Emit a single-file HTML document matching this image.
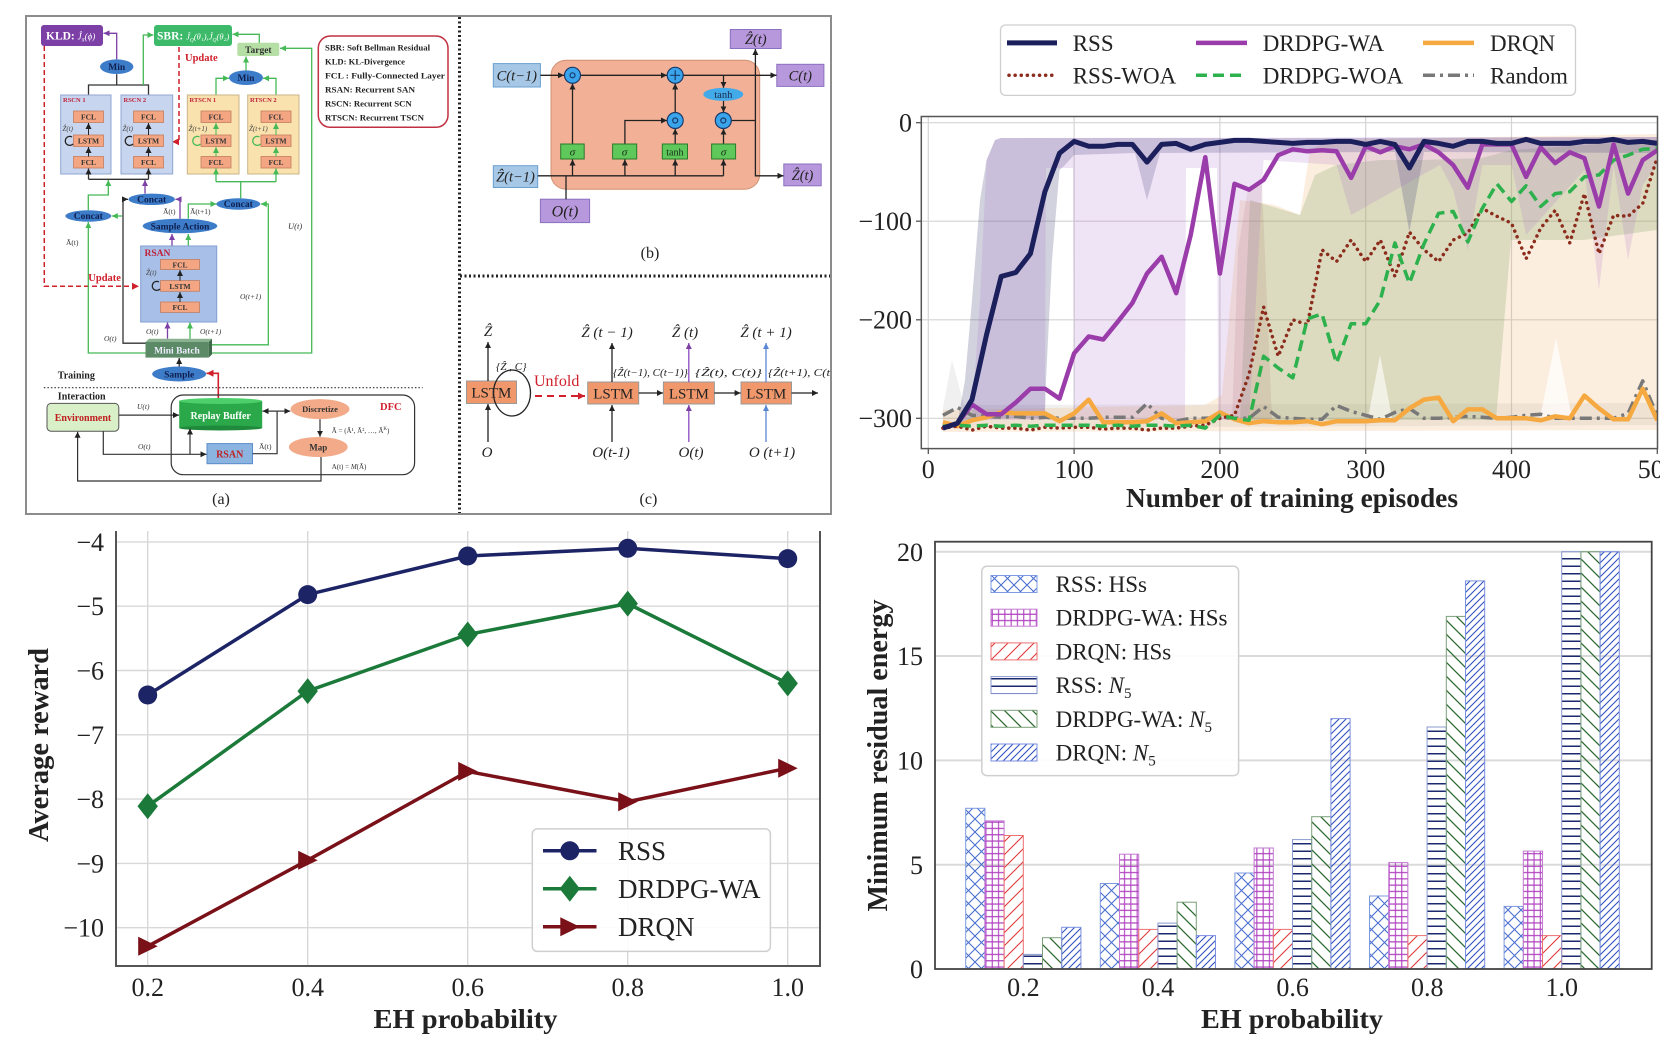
<!DOCTYPE html>
<html><head><meta charset="utf-8"><style>
html,body{margin:0;padding:0;background:#fff;}
svg{display:block;}
text{font-family:"Liberation Serif","DejaVu Serif",serif;}
</style></head><body>
<svg width="1680" height="1050" viewBox="0 0 1680 1050" xmlns="http://www.w3.org/2000/svg">
<defs>
<marker id="mk" viewBox="0 0 10 10" refX="10" refY="5" markerWidth="6" markerHeight="6" markerUnits="userSpaceOnUse" orient="auto"><path d="M0,0L10,5L0,10z" fill="#222"/></marker>
<marker id="mg" viewBox="0 0 10 10" refX="10" refY="5" markerWidth="6" markerHeight="6" markerUnits="userSpaceOnUse" orient="auto"><path d="M0,0L10,5L0,10z" fill="#45b955"/></marker>
<marker id="mp" viewBox="0 0 10 10" refX="10" refY="5" markerWidth="6" markerHeight="6" markerUnits="userSpaceOnUse" orient="auto"><path d="M0,0L10,5L0,10z" fill="#7b3fa6"/></marker>
<marker id="mr" viewBox="0 0 10 10" refX="10" refY="5" markerWidth="7" markerHeight="7" markerUnits="userSpaceOnUse" orient="auto"><path d="M0,0L10,5L0,10z" fill="#d0202c"/></marker>
<marker id="mb" viewBox="0 0 10 10" refX="10" refY="5" markerWidth="6" markerHeight="6" markerUnits="userSpaceOnUse" orient="auto"><path d="M0,0L10,5L0,10z" fill="#5a86d6"/></marker>
<pattern id="pX" patternUnits="userSpaceOnUse" width="13" height="13"><path d="M0,0L13,13M13,0L0,13" stroke="#4a6fd0" stroke-width="1.1"/></pattern>
<pattern id="pG" patternUnits="userSpaceOnUse" width="6.3" height="6.3"><path d="M0,3.15H6.3M3.15,0V6.3" stroke="#b040c0" stroke-width="1.1"/></pattern>
<pattern id="pS" patternUnits="userSpaceOnUse" width="13" height="13"><path d="M0,13L13,0M-3,3L3,-3M10,16L16,10" stroke="#e03a3a" stroke-width="1.1"/></pattern>
<pattern id="pH" patternUnits="userSpaceOnUse" width="7" height="7.5"><path d="M0,3.75H7" stroke="#1b2a6e" stroke-width="1.5"/></pattern>
<pattern id="pB" patternUnits="userSpaceOnUse" width="14" height="14"><path d="M0,0L14,14M-3,11L3,17M11,-3L17,3" stroke="#2e6b30" stroke-width="1.3"/></pattern>
<pattern id="pD" patternUnits="userSpaceOnUse" width="7" height="7"><path d="M0,7L7,0M-2,2L2,-2M5,9L9,5" stroke="#3050c0" stroke-width="1.1"/></pattern>
<clipPath id="cpTR"><rect x="921.3" y="116.5" width="736.2" height="332.1"/></clipPath>
<clipPath id="cpTRL"><rect x="840" y="0" width="820" height="520"/></clipPath>
</defs>

<!-- ================= TOP-LEFT DIAGRAM ================= -->
<rect x="26" y="16" width="805" height="498" fill="#fff" stroke="#8c8c8c" stroke-width="2"/>
<line x1="459.5" y1="17" x2="459.5" y2="513" stroke="#222" stroke-width="3" stroke-dasharray="2 2.5"/>
<line x1="460" y1="276" x2="830" y2="276" stroke="#222" stroke-width="3" stroke-dasharray="2 2.5"/>

<path d="M44.3,46 V286.3 H139" fill="none" stroke="#d0202c" stroke-width="1.5" stroke-dasharray="5 3" marker-end="url(#mr)"/>
<path d="M179,47 V141.7 H172" fill="none" stroke="#d0202c" stroke-width="1.5" stroke-dasharray="5 3" marker-end="url(#mr)"/>

<rect x="41" y="25" width="62" height="21" rx="3" fill="#7b3fa6"/>
<text x="46" y="39.5" font-size="11.5" font-weight="bold" fill="#fff">KLD: <tspan font-style="italic" font-weight="normal" font-size="9">Ĵ<tspan font-size="6" dy="2">π</tspan><tspan dy="-2">(ϕ)</tspan></tspan></text>
<rect x="154" y="25" width="78" height="21" rx="3" fill="#3cba6a"/>
<text x="157" y="39.5" font-size="11.5" font-weight="bold" fill="#fff">SBR: <tspan font-style="italic" font-weight="normal" font-size="8.5">Ĵ<tspan font-size="5.5" dy="2">Q</tspan><tspan dy="-2">(θ₁),Ĵ</tspan><tspan font-size="5.5" dy="2">Q</tspan><tspan dy="-2">(θ₂)</tspan></tspan></text>
<rect x="237.3" y="42.7" width="42" height="13.3" rx="2" fill="#b5dfa5"/>
<text x="258.3" y="53" font-size="9.5" font-weight="bold" fill="#333" text-anchor="middle">Target</text>
<text x="185" y="61" font-size="10.5" font-weight="bold" fill="#d0202c">Update</text>

<path d="M88.5,111 V85 H148.5 V111" fill="none" stroke="#333" stroke-width="1.3"/>
<path d="M116.7,85 V74.2" fill="none" stroke="#333" stroke-width="1.3"/>
<path d="M116.7,59.4 V33.3 H103.5" fill="none" stroke="#7b3fa6" stroke-width="1.3" marker-end="url(#mp)"/>
<path d="M143.3,85 V35 H153.5" fill="none" stroke="#45b955" stroke-width="1.3" marker-end="url(#mg)"/>
<path d="M216,111 V78.3 H229" fill="none" stroke="#45b955" stroke-width="1.3" marker-end="url(#mg)"/>
<path d="M276,111 V78.3 H263" fill="none" stroke="#45b955" stroke-width="1.3" marker-end="url(#mg)"/>
<path d="M246,70.4 V56.5" fill="none" stroke="#45b955" stroke-width="1.3" marker-end="url(#mg)"/>
<path d="M259.3,42.7 V34.3 H232.5" fill="none" stroke="#45b955" stroke-width="1.3" marker-end="url(#mg)"/>
<path d="M208.7,353 H311.7 V48.3 H280" fill="none" stroke="#45b955" stroke-width="1.3" marker-end="url(#mg)"/>

<ellipse cx="116.7" cy="66.7" rx="16.7" ry="7.3" fill="#3d7cc9"/>
<text x="116.7" y="70" font-size="9.5" font-weight="bold" fill="#0f1f4f" text-anchor="middle">Min</text>
<ellipse cx="246" cy="77.7" rx="17" ry="7.3" fill="#3d7cc9"/>
<text x="246" y="81" font-size="9.5" font-weight="bold" fill="#0f1f4f" text-anchor="middle">Min</text>

<rect x="318.3" y="36" width="129.7" height="91.3" rx="12" fill="#fff" stroke="#c03040" stroke-width="1.5"/>
<g font-size="8.7" font-weight="bold" fill="#222">
<text x="325" y="50.7" textLength="105" lengthAdjust="spacingAndGlyphs">SBR: Soft Bellman Residual</text>
<text x="325" y="64.7" textLength="80" lengthAdjust="spacingAndGlyphs">KLD: KL-Divergence</text>
<text x="325" y="78.7" textLength="120" lengthAdjust="spacingAndGlyphs">FCL :  Fully-Connected Layer</text>
<text x="325" y="92.3" textLength="90" lengthAdjust="spacingAndGlyphs">RSAN: Recurrent SAN</text>
<text x="325" y="106.3" textLength="86.7" lengthAdjust="spacingAndGlyphs">RSCN: Recurrent SCN</text>
<text x="325" y="120.3" textLength="99" lengthAdjust="spacingAndGlyphs">RTSCN: Recurrent TSCN</text>
</g>

<rect x="60.7" y="95" width="50.3" height="79" fill="#c8d5ee" stroke="#8fa6d2"/>
<rect x="121" y="95" width="51.7" height="79" fill="#c8d5ee" stroke="#8fa6d2"/>
<rect x="187.3" y="95" width="51.7" height="79" fill="#f9e2ae" stroke="#c9b58a"/>
<rect x="247.7" y="95" width="51.3" height="79" fill="#f9e2ae" stroke="#c9b58a"/>
<g font-size="6.5" font-weight="bold" fill="#c0203a">
<text x="63" y="102">RSCN 1</text><text x="123.5" y="102">RSCN 2</text>
<text x="189.5" y="102">RTSCN 1</text><text x="250" y="102">RTSCN 2</text>
</g>
<g fill="#f4a683" stroke="#c27e60" stroke-width="0.8">
<rect x="73.5" y="111" width="30" height="11.5"/><rect x="73.5" y="135" width="30" height="11.5"/><rect x="73.5" y="156.5" width="30" height="11.5"/>
<rect x="133.5" y="111" width="30" height="11.5"/><rect x="133.5" y="135" width="30" height="11.5"/><rect x="133.5" y="156.5" width="30" height="11.5"/>
<rect x="201" y="111" width="30" height="11.5"/><rect x="201" y="135" width="30" height="11.5"/><rect x="201" y="156.5" width="30" height="11.5"/>
<rect x="261" y="111" width="30" height="11.5"/><rect x="261" y="135" width="30" height="11.5"/><rect x="261" y="156.5" width="30" height="11.5"/>
</g>
<g font-size="7.5" font-weight="bold" fill="#333" text-anchor="middle">
<text x="88.5" y="119.5">FCL</text><text x="88.5" y="143.5">LSTM</text><text x="88.5" y="165">FCL</text>
<text x="148.5" y="119.5">FCL</text><text x="148.5" y="143.5">LSTM</text><text x="148.5" y="165">FCL</text>
<text x="216" y="119.5">FCL</text><text x="216" y="143.5">LSTM</text><text x="216" y="165">FCL</text>
<text x="276" y="119.5">FCL</text><text x="276" y="143.5">LSTM</text><text x="276" y="165">FCL</text>
</g>
<g fill="none" stroke-width="1">
<path d="M88.5,156.5 V147" stroke="#222" marker-end="url(#mk)"/><path d="M88.5,135 V123" stroke="#222" marker-end="url(#mk)"/>
<path d="M148.5,156.5 V147" stroke="#222" marker-end="url(#mk)"/><path d="M148.5,135 V123" stroke="#222" marker-end="url(#mk)"/>
<path d="M216,156.5 V147" stroke="#45b955" marker-end="url(#mg)"/><path d="M216,135 V123" stroke="#45b955" marker-end="url(#mg)"/>
<path d="M276,156.5 V147" stroke="#45b955" marker-end="url(#mg)"/><path d="M276,135 V123" stroke="#45b955" marker-end="url(#mg)"/>
<path d="M72,137 A4.5,4.5 0 1 0 73,144" stroke="#222" stroke-width="1.3"/>
<path d="M132,137 A4.5,4.5 0 1 0 133,144" stroke="#222" stroke-width="1.3"/>
<path d="M199.5,137 A4.5,4.5 0 1 0 200.5,144" stroke="#45b955" stroke-width="1.3"/>
<path d="M259.5,137 A4.5,4.5 0 1 0 260.5,144" stroke="#45b955" stroke-width="1.3"/>
</g>
<g font-size="7" font-style="italic" fill="#444">
<text x="62.5" y="131">Ẑ(t)</text><text x="122.5" y="131">Ẑ(t)</text>
<text x="188.5" y="131">Ẑ(t+1)</text><text x="249" y="131">Ẑ(t+1)</text>
</g>

<path d="M88.5,179.3 H148.5" fill="none" stroke="#333" stroke-width="1.3"/>
<path d="M88.5,179.3 V168.5" stroke="#333" stroke-width="1.3" marker-end="url(#mk)"/>
<path d="M148.5,179.3 V168.5" stroke="#333" stroke-width="1.3" marker-end="url(#mk)"/>
<path d="M88.3,210.3 V195 H108.3 V180" fill="none" stroke="#45b955" stroke-width="1.3" marker-end="url(#mg)"/>
<path d="M145,193.6 V180" fill="none" stroke="#7b3fa6" stroke-width="1.3" marker-end="url(#mp)"/>
<path d="M216,181.7 H276" fill="none" stroke="#45b955" stroke-width="1.3"/>
<path d="M216,181.7 V168.5" stroke="#45b955" stroke-width="1.3" marker-end="url(#mg)"/>
<path d="M276,181.7 V168.5" stroke="#45b955" stroke-width="1.3" marker-end="url(#mg)"/>
<path d="M240.7,198.3 V182" stroke="#45b955" stroke-width="1.3"/>

<path d="M180,218.7 V199.3 H175.5" fill="none" stroke="#7b3fa6" stroke-width="1.3" marker-end="url(#mp)"/>
<path d="M188.3,218.7 V204 H216.5" fill="none" stroke="#45b955" stroke-width="1.3" marker-end="url(#mg)"/>
<path d="M145.5,343.2 H123 V199.3 H128" fill="none" stroke="#333" stroke-width="1.3" marker-end="url(#mk)"/>
<path d="M122,216 H111.8" fill="none" stroke="#45b955" stroke-width="1.3" marker-end="url(#mg)"/>
<path d="M145.5,353 H88.3 V222" fill="none" stroke="#45b955" stroke-width="1.3" marker-end="url(#mg)"/>
<path d="M208.7,344.8 H268.3 V204 H260.8" fill="none" stroke="#45b955" stroke-width="1.3" marker-end="url(#mg)"/>
<path d="M172,246 V234" stroke="#7b3fa6" stroke-width="1.3" marker-end="url(#mp)"/>
<path d="M188.3,246 V234" stroke="#45b955" stroke-width="1.3" marker-end="url(#mg)"/>
<path d="M167.5,338.8 V322.5" stroke="#7b3fa6" stroke-width="1.3" marker-end="url(#mp)"/>
<path d="M190,338.8 V322.5" stroke="#45b955" stroke-width="1.3" marker-end="url(#mg)"/>
<path d="M179.2,366.5 V358" stroke="#333" stroke-width="1.3" marker-end="url(#mk)"/>
<path d="M218.3,398 V373.3 H206.5" fill="none" stroke="#d0202c" stroke-width="1.6" marker-end="url(#mr)"/>

<g fill="#3d7cc9">
<ellipse cx="151.7" cy="199.3" rx="23.3" ry="5.7"/>
<ellipse cx="238.3" cy="204" rx="22" ry="5.7"/>
<ellipse cx="88.3" cy="216" rx="23" ry="5.7"/>
<ellipse cx="180" cy="226" rx="37.3" ry="7.3"/>
<ellipse cx="179.2" cy="374" rx="27" ry="7.5"/>
</g>
<g font-size="9.5" font-weight="bold" fill="#0f1f4f" text-anchor="middle">
<text x="151.7" y="202.5">Concat</text><text x="238.3" y="207.2">Concat</text><text x="88.3" y="219.2">Concat</text>
<text x="180" y="229.5">Sample Action</text><text x="179.2" y="377.5">Sample</text>
</g>
<g font-size="7.5" fill="#333">
<text x="163" y="214">Ā(t)</text><text x="190" y="214">Ā(t+1)</text>
<text x="66" y="245">Ā(t)</text>
<text x="288" y="229" font-style="italic" font-size="8.5">U(t)</text>
<text x="240" y="299" font-style="italic">O(t+1)</text>
<text x="146" y="334" font-style="italic">O(t)</text>
<text x="200" y="334" font-style="italic">O(t+1)</text>
<text x="104" y="341" font-style="italic">O(t)</text>
</g>

<rect x="140.7" y="246" width="76" height="76" fill="#a8c0e8" stroke="#7f9fd0"/>
<text x="144.5" y="256" font-size="9.5" font-weight="bold" fill="#c0203a">RSAN</text>
<g fill="#f4a683" stroke="#c27e60" stroke-width="0.8">
<rect x="160.5" y="259.5" width="39" height="10"/><rect x="160.5" y="280.6" width="39" height="10.7"/><rect x="160.5" y="302" width="39" height="10.4"/>
</g>
<g font-size="7.5" font-weight="bold" fill="#333" text-anchor="middle">
<text x="180" y="267.3">FCL</text><text x="180" y="288.8">LSTM</text><text x="180" y="310">FCL</text>
</g>
<path d="M180,302 V292" stroke="#222" marker-end="url(#mk)"/>
<path d="M180,280.6 V270" stroke="#222" marker-end="url(#mk)"/>
<path d="M159,282 A4.5,4.5 0 1 0 160,289" fill="none" stroke="#222" stroke-width="1.3"/>
<text x="146" y="275" font-size="7" font-style="italic" fill="#444">Ẑ(t)</text>
<text x="88.3" y="281" font-size="10.5" font-weight="bold" fill="#d0202c">Update</text>

<polygon points="145.5,342 149,338.8 212,338.8 208.7,342" fill="#8ab290"/>
<polygon points="208.7,342 212,338.8 212,354.4 208.7,357.6" fill="#406a4a"/>
<rect x="145.5" y="342" width="63.2" height="15.6" fill="#5c8a66"/>
<text x="177" y="353.5" font-size="9.5" font-weight="bold" fill="#eef" text-anchor="middle">Mini Batch</text>

<text x="57.8" y="378.5" font-size="10" font-weight="bold" fill="#222">Training</text>
<text x="57.8" y="399.5" font-size="10" font-weight="bold" fill="#222">Interaction</text>
<line x1="43.9" y1="387.7" x2="422.7" y2="387.7" stroke="#333" stroke-width="1.2" stroke-dasharray="1.5 2"/>

<rect x="171.2" y="395" width="243.4" height="79.7" rx="12" fill="none" stroke="#333" stroke-width="1.2"/>
<text x="380" y="410" font-size="10.5" font-weight="bold" fill="#d0202c">DFC</text>
<rect x="47" y="403.4" width="71.8" height="27.8" rx="4" fill="#d8efc8" stroke="#555"/>
<text x="83" y="421" font-size="10" font-weight="bold" fill="#c02020" text-anchor="middle">Environment</text>
<rect x="179.2" y="401" width="83" height="27" fill="#2aa84a"/>
<ellipse cx="220.7" cy="428" rx="41.5" ry="2.5" fill="#1f8a3c"/>
<ellipse cx="220.7" cy="401" rx="41.5" ry="3" fill="#4dd06c"/>
<text x="220.7" y="419" font-size="10" font-weight="bold" fill="#fff" text-anchor="middle">Replay Buffer</text>
<ellipse cx="320" cy="409.1" rx="29.4" ry="10" fill="#f2aa88"/>
<text x="320" y="412" font-size="8.5" font-weight="bold" fill="#333" text-anchor="middle">Discretize</text>
<ellipse cx="318.3" cy="447" rx="29.4" ry="10" fill="#f2aa88"/>
<text x="318.3" y="450.5" font-size="9" font-weight="bold" fill="#333" text-anchor="middle">Map</text>
<text x="331.7" y="433" font-size="7" fill="#333">Ā = (Ā¹, Ā², …, Ā<tspan font-size="5" dy="-3">K</tspan><tspan dy="3">)</tspan></text>
<text x="331.7" y="469" font-size="7" fill="#333">A(t) = <tspan font-style="italic">M</tspan>(Ā)</text>
<rect x="207" y="443.6" width="45.5" height="20.1" fill="#8cb4e0" stroke="#5b8ccc"/>
<text x="229.7" y="457.5" font-size="10" font-weight="bold" fill="#c02020" text-anchor="middle">RSAN</text>
<g fill="none" stroke="#333" stroke-width="1.2">
<path d="M118.8,415.1 H179" marker-end="url(#mk)"/>
<path d="M103.3,431.2 V454.3 H206.5" marker-end="url(#mk)"/>
<path d="M190,454.3 V428.5" marker-end="url(#mk)"/>
<path d="M252.5,453.7 H277.1 V411.1 H262.5" marker-end="url(#mk)"/>
<path d="M277,411.1 H290.3" marker-end="url(#mk)"/>
<path d="M320,419.2 V436.8" marker-end="url(#mk)"/>
<path d="M321,457 V481 H77.6 V431.8" marker-end="url(#mk)"/>
</g>
<g font-size="7.5" font-style="italic" fill="#333">
<text x="137" y="409">U(t)</text><text x="138" y="449">O(t)</text><text x="259" y="449" font-style="normal">Ā(t)</text>
</g>
<text x="221" y="504" font-size="16" fill="#222" text-anchor="middle">(a)</text>

<!-- (b) LSTM cell -->
<rect x="551" y="60.3" width="208.7" height="128.9" rx="15" fill="#f2b196" stroke="#d09070"/>
<rect x="493.3" y="63.6" width="47.1" height="23.4" fill="#a6c8e6" stroke="#6a9fd0"/>
<text x="516.8" y="80.5" font-size="14.5" font-style="italic" fill="#222" text-anchor="middle">C(t−1)</text>
<rect x="493.3" y="165.7" width="44.4" height="21.8" fill="#a6c8e6" stroke="#6a9fd0"/>
<text x="515.5" y="181.5" font-size="14.5" font-style="italic" fill="#222" text-anchor="middle">Ẑ(t−1)</text>
<rect x="540.4" y="199.2" width="49.2" height="23.4" fill="#b898dc" stroke="#8a70c0"/>
<text x="565" y="216.5" font-size="16" font-style="italic" fill="#222" text-anchor="middle">O(t)</text>
<rect x="730.3" y="29.5" width="50.8" height="19" fill="#b898dc" stroke="#8a70c0"/>
<text x="755.7" y="44" font-size="14.5" font-style="italic" fill="#222" text-anchor="middle">Ẑ(t)</text>
<rect x="776.8" y="64.3" width="47.1" height="22.1" fill="#b898dc" stroke="#8a70c0"/>
<text x="800.3" y="80.5" font-size="14.5" font-style="italic" fill="#222" text-anchor="middle">C(t)</text>
<rect x="783.8" y="164" width="37.4" height="21.8" fill="#b898dc" stroke="#8a70c0"/>
<text x="802.5" y="180" font-size="14.5" font-style="italic" fill="#222" text-anchor="middle">Ẑ(t)</text>
<g fill="none" stroke="#222" stroke-width="1.3">
<path d="M540.4,75.3 H564" marker-end="url(#mk)"/>
<path d="M580.5,75.3 H667" marker-end="url(#mk)"/>
<path d="M683.2,75.3 H776.5" marker-end="url(#mk)"/>
<path d="M537.7,175.8 H723.5"/>
<path d="M572.5,175.8 V159.5" marker-end="url(#mk)"/>
<path d="M624.9,175.8 V159.5" marker-end="url(#mk)"/>
<path d="M675.2,175.8 V159.5" marker-end="url(#mk)"/>
<path d="M723.5,175.8 V159.5" marker-end="url(#mk)"/>
<path d="M566,199.2 V175.8"/>
<path d="M572.5,144 V83.5" marker-end="url(#mk)"/>
<path d="M624.9,144 V120.5 H667" marker-end="url(#mk)"/>
<path d="M675.2,144 V128.7" marker-end="url(#mk)"/>
<path d="M675.2,112.5 V83.5" marker-end="url(#mk)"/>
<path d="M723.5,144 V128.7" marker-end="url(#mk)"/>
<path d="M723.5,75.3 V87.8" marker-end="url(#mk)"/>
<path d="M723.5,100.9 V112.3" marker-end="url(#mk)"/>
<path d="M731.5,120.5 H755.4 V49" marker-end="url(#mk)"/>
<path d="M755.4,120.5 V175.8 H783.5" marker-end="url(#mk)"/>
</g>
<g fill="#3aa5ec" stroke="#1a3a6a" stroke-width="1.2">
<circle cx="572.5" cy="75.3" r="8"/><circle cx="675.2" cy="75.3" r="8"/>
<circle cx="675.2" cy="120.5" r="8"/><circle cx="723.3" cy="120.5" r="8"/>
</g>
<g fill="none" stroke="#1a3a6a" stroke-width="1.2">
<circle cx="572.5" cy="75.3" r="2.5"/><circle cx="675.2" cy="120.5" r="2.5"/><circle cx="723.3" cy="120.5" r="2.5"/>
<path d="M670.2,75.3 H680.2 M675.2,70.3 V80.3"/>
</g>
<ellipse cx="723.3" cy="94.4" rx="20" ry="6.5" fill="#43aaea"/>
<text x="723.3" y="98" font-size="10.5" fill="#1a2a4a" text-anchor="middle">tanh</text>
<g fill="#5ec85a" stroke="#2a7a2a">
<rect x="560.7" y="144" width="23.5" height="15"/><rect x="612.6" y="144" width="24.1" height="15"/>
<rect x="662.3" y="144" width="25.2" height="15"/><rect x="711.6" y="144" width="24" height="15"/>
</g>
<g font-size="11" fill="#1a2a1a" text-anchor="middle">
<text x="572.5" y="155.5" font-style="italic">σ</text><text x="624.6" y="155.5" font-style="italic">σ</text>
<text x="674.9" y="155.5" font-size="10">tanh</text><text x="723.6" y="155.5" font-style="italic">σ</text>
</g>
<text x="650" y="258" font-size="16" fill="#222" text-anchor="middle">(b)</text>

<!-- (c) unfolded LSTM -->
<g fill="#f0986c" stroke="#999">
<rect x="466.5" y="381" width="50" height="22.5"/><rect x="587.7" y="382" width="51" height="22"/>
<rect x="663.4" y="382" width="51" height="22"/><rect x="741" y="382" width="50.5" height="22"/>
</g>
<g font-size="15" fill="#222" text-anchor="middle">
<text x="491.4" y="397.5">LSTM</text><text x="613.2" y="398.5">LSTM</text><text x="688.9" y="398.5">LSTM</text><text x="766.2" y="398.5">LSTM</text>
</g>
<ellipse cx="512" cy="393" rx="18.5" ry="23" fill="none" stroke="#222" stroke-width="1.3"/>
<g fill="none" stroke-width="1.3">
<path d="M488,381 V342" stroke="#222" marker-end="url(#mk)"/>
<path d="M488,442 V404" stroke="#222" marker-end="url(#mk)"/>
<path d="M612,382 V343" stroke="#222" marker-end="url(#mk)"/>
<path d="M688.8,382 V343" stroke="#8a4cc0" marker-end="url(#mp)"/>
<path d="M766,382 V343" stroke="#5a86d6" marker-end="url(#mb)"/>
<path d="M612,442 V405" stroke="#222" marker-end="url(#mk)"/>
<path d="M688.8,442 V405" stroke="#8a4cc0" marker-end="url(#mp)"/>
<path d="M766,442 V405" stroke="#5a86d6" marker-end="url(#mb)"/>
<path d="M638.7,393 H663" stroke="#222" marker-end="url(#mk)"/>
<path d="M714.4,393 H740.6" stroke="#222" marker-end="url(#mk)"/>
<path d="M791.5,393 H818" stroke="#222" marker-end="url(#mk)"/>
<path d="M535,396 H585" stroke="#d0202c" stroke-width="2" stroke-dasharray="7 5" marker-end="url(#mr)"/>
</g>
<text x="534" y="386" font-size="16" fill="#d0202c">Unfold</text>
<text x="496" y="370" font-size="11" font-style="italic" fill="#222">{Ẑ , C}</text>
<g font-size="15" font-style="italic" fill="#222" text-anchor="middle">
<text x="488" y="336">Ẑ</text><text x="607" y="337">Ẑ (t − 1)</text><text x="685" y="337">Ẑ (t)</text><text x="766" y="337">Ẑ (t + 1)</text>
<text x="487" y="457">O</text><text x="611" y="457">O(t-1)</text><text x="691" y="457">O(t)</text><text x="772" y="457">O (t+1)</text>
</g>
<g font-size="10" font-style="italic" fill="#222">
<text x="613" y="376" textLength="75" lengthAdjust="spacingAndGlyphs">{Ẑ(t−1), C(t−1)}</text>
<text x="695" y="376" textLength="67" lengthAdjust="spacingAndGlyphs">{Ẑ(t), C(t)}</text>
<text x="768" y="376" textLength="62" lengthAdjust="spacingAndGlyphs">{Ẑ(t+1), C(t</text>
</g>
<text x="648.4" y="504" font-size="16" fill="#222" text-anchor="middle">(c)</text>

<!-- ================= TOP-RIGHT CHART ================= -->
<g clip-path="url(#cpTRL)">
<g stroke="#d4d4d4" stroke-width="1.2">
<line x1="928.3" y1="116.5" x2="928.3" y2="448.6"/><line x1="1074.1" y1="116.5" x2="1074.1" y2="448.6"/>
<line x1="1219.9" y1="116.5" x2="1219.9" y2="448.6"/><line x1="1365.7" y1="116.5" x2="1365.7" y2="448.6"/>
<line x1="1511.5" y1="116.5" x2="1511.5" y2="448.6"/>
<line x1="921.3" y1="122.7" x2="1657.5" y2="122.7"/><line x1="921.3" y1="221.2" x2="1657.5" y2="221.2"/>
<line x1="921.3" y1="319.8" x2="1657.5" y2="319.8"/><line x1="921.3" y1="418.3" x2="1657.5" y2="418.3"/>
</g>
<g clip-path="url(#cpTR)">
<polygon points="942.9,408 952,360 964,405 1657.3,403 1657.3,425 942.9,428" fill="#999" opacity="0.15"/>
<polygon points="942.9,410 1205,405 1222,395 1240,200 1275,205 1300,215 1310,150 1330,140 1657.3,134 1657.3,430 942.9,432" fill="#f2a860" opacity="0.2"/>
<polygon points="1240,420 1250,200 1300,215 1315,175 1336,165 1380,160 1424,160 1482,158 1511,150 1657,140 1657,230 1584,240 1511,240 1496,420" fill="#6f9a50" opacity="0.22"/>
<polygon points="1232,420 1238,250 1248,188 1262,185 1272,420" fill="#a04848" opacity="0.12"/>
<polygon points="957.5,423 965,380 972,300 980,200 986.6,160 995,140 1001.2,138 1300,138 1657.3,137 1657.3,153 1424,152 1409.4,232 1395,152 1160,153 1147,200 1135,153 1074,155 1065,165 1059.5,170 1052,260 1046,380 1044.9,418 986.6,418 972,420" fill="#34346e" opacity="0.22"/>
<polygon points="972,415 980,300 986.6,160 995,140 1001,138 1657,137 1657.3,165 1642.7,185 1628,260 1613.6,165 1599,290 1584.4,170 1526.1,235 1511.5,165 1482.3,165 1467.8,250 1453.2,190 1440,165 1351.1,215 1336.5,165 1263.6,160 1256,300 1249,420 1218,420 1217,168 1186,168 1185,420 1074.1,420 1073,168 1046,168 1044.9,420 986.6,420 972,420" fill="#a868c8" opacity="0.18"/>
<polygon points="1540,418 1556,338 1572,418" fill="#fff" opacity="0.7"/>
<polygon points="1368,418 1380,355 1392,418" fill="#fff" opacity="0.6"/>

<polyline fill="none" stroke="#787878" stroke-width="3.5" stroke-dasharray="12 5 3 5" stroke-linejoin="round" points="942.9,415.3 957.5,407.5 972.0,415.3 986.6,416.3 1001.2,417.3 1015.8,416.3 1030.4,418.3 1044.9,417.3 1059.5,418.3 1074.1,418.3 1088.7,418.3 1103.3,417.3 1117.8,417.3 1132.4,417.3 1147.0,403.5 1161.6,418.3 1176.2,421.2 1190.7,418.3 1205.3,418.3 1219.9,417.3 1234.5,418.3 1249.1,418.3 1263.6,406.5 1278.2,417.3 1292.8,418.3 1307.4,419.3 1322.0,419.3 1336.5,405.5 1351.1,411.4 1365.7,415.3 1380.3,419.3 1394.9,412.4 1409.4,408.4 1424.0,418.3 1438.6,418.3 1453.2,417.3 1467.8,416.3 1482.3,417.3 1496.9,418.3 1511.5,417.3 1526.1,415.3 1540.7,414.3 1555.2,418.3 1569.8,418.3 1584.4,418.3 1599.0,418.3 1613.6,418.3 1628.1,413.4 1642.7,380.9 1657.3,416.3"/>
<polyline fill="none" stroke="#f5a940" stroke-width="4.5" stroke-linejoin="round" points="942.9,422.2 957.5,426.2 972.0,420.3 986.6,417.3 1001.2,412.4 1015.8,413.4 1030.4,413.4 1044.9,413.4 1059.5,421.2 1074.1,413.4 1088.7,399.6 1103.3,422.2 1117.8,422.2 1132.4,422.2 1147.0,421.2 1161.6,413.4 1176.2,423.2 1190.7,422.2 1205.3,421.2 1219.9,412.4 1234.5,419.3 1249.1,423.2 1263.6,421.2 1278.2,422.2 1292.8,422.2 1307.4,421.2 1322.0,424.2 1336.5,421.2 1351.1,421.2 1365.7,421.2 1380.3,420.3 1394.9,420.3 1409.4,408.4 1424.0,399.6 1438.6,397.6 1453.2,421.2 1467.8,409.4 1482.3,409.4 1496.9,418.3 1511.5,418.3 1526.1,418.3 1540.7,420.3 1555.2,416.3 1569.8,418.3 1584.4,395.6 1599.0,408.4 1613.6,419.3 1628.1,419.3 1642.7,388.7 1657.3,420.3"/>
<polyline fill="none" stroke="#8b2c1c" stroke-width="3.5" stroke-dasharray="0.1 6" stroke-linecap="round" stroke-linejoin="round" points="942.9,428.1 957.5,426.2 972.0,430.1 986.6,426.2 1001.2,428.1 1015.8,428.1 1030.4,430.1 1044.9,427.2 1059.5,428.1 1074.1,427.2 1088.7,427.2 1103.3,429.1 1117.8,428.1 1132.4,428.1 1147.0,430.1 1161.6,428.1 1176.2,428.1 1190.7,426.2 1205.3,425.2 1219.9,418.3 1234.5,415.3 1249.1,374.0 1263.6,306.9 1278.2,356.2 1292.8,319.8 1307.4,324.7 1322.0,249.8 1336.5,261.6 1351.1,240.0 1365.7,261.6 1380.3,240.0 1394.9,276.4 1409.4,232.1 1424.0,249.8 1438.6,261.6 1453.2,240.0 1467.8,233.1 1482.3,208.4 1496.9,216.3 1511.5,223.2 1526.1,258.7 1540.7,228.1 1555.2,210.4 1569.8,242.9 1584.4,193.6 1599.0,253.7 1613.6,215.3 1628.1,216.3 1642.7,203.5 1657.3,157.2"/>
<polyline fill="none" stroke="#2db14d" stroke-width="3.5" stroke-dasharray="11 6" stroke-linejoin="round" points="942.9,426.2 957.5,425.2 972.0,426.2 986.6,425.2 1001.2,426.2 1015.8,425.2 1030.4,426.2 1044.9,425.2 1059.5,425.2 1074.1,425.2 1088.7,425.2 1103.3,426.2 1117.8,425.2 1132.4,426.2 1147.0,425.2 1161.6,425.2 1176.2,426.2 1190.7,425.2 1205.3,428.1 1219.9,415.3 1234.5,418.3 1249.1,420.3 1263.6,356.2 1278.2,368.0 1292.8,377.9 1307.4,318.8 1322.0,313.9 1336.5,363.1 1351.1,323.7 1365.7,323.7 1380.3,300.1 1394.9,242.9 1409.4,283.3 1424.0,243.9 1438.6,213.3 1453.2,211.4 1467.8,241.9 1482.3,208.4 1496.9,183.8 1511.5,201.5 1526.1,185.8 1540.7,206.5 1555.2,193.6 1569.8,191.7 1584.4,176.9 1599.0,174.9 1613.6,160.1 1628.1,155.2 1642.7,149.3 1657.3,148.3"/>
<polyline fill="none" stroke="#9a3caa" stroke-width="4.5" stroke-linejoin="round" points="942.9,428.1 957.5,423.2 972.0,404.5 986.6,414.3 1001.2,414.3 1015.8,402.5 1030.4,388.7 1044.9,388.7 1059.5,398.6 1074.1,353.3 1088.7,336.5 1103.3,339.5 1117.8,321.7 1132.4,303.0 1147.0,273.5 1161.6,256.7 1176.2,293.2 1190.7,235.0 1205.3,157.2 1219.9,273.5 1234.5,183.8 1249.1,189.7 1263.6,179.8 1278.2,155.2 1292.8,149.3 1307.4,151.3 1322.0,150.3 1336.5,151.3 1351.1,177.9 1365.7,146.3 1380.3,152.3 1394.9,146.3 1409.4,149.3 1424.0,144.4 1438.6,152.3 1453.2,165.1 1467.8,187.7 1482.3,144.4 1496.9,144.4 1511.5,144.4 1526.1,176.9 1540.7,147.3 1555.2,163.1 1569.8,152.3 1584.4,158.2 1599.0,206.5 1613.6,144.4 1628.1,193.6 1642.7,160.1 1657.3,150.3"/>
<polyline fill="none" stroke="#1b1f5c" stroke-width="5" stroke-linejoin="round" points="942.9,428.1 957.5,423.2 972.0,399.6 986.6,334.5 1001.2,276.4 1015.8,272.5 1030.4,253.7 1044.9,191.7 1059.5,153.2 1074.1,141.4 1088.7,146.3 1103.3,146.3 1117.8,144.4 1132.4,144.4 1147.0,162.1 1161.6,144.4 1176.2,143.4 1190.7,149.3 1205.3,144.4 1219.9,142.4 1234.5,140.4 1249.1,140.4 1263.6,141.4 1278.2,142.4 1292.8,143.4 1307.4,142.4 1322.0,142.4 1336.5,141.4 1351.1,141.4 1365.7,144.4 1380.3,141.4 1394.9,144.4 1409.4,168.0 1424.0,141.4 1438.6,143.4 1453.2,146.3 1467.8,141.4 1482.3,141.4 1496.9,143.4 1511.5,143.4 1526.1,139.4 1540.7,143.4 1555.2,143.4 1569.8,143.4 1584.4,141.4 1599.0,141.4 1613.6,139.4 1628.1,142.4 1642.7,141.4 1657.3,143.4"/>
</g>
<rect x="921.3" y="116.5" width="736.2" height="332.1" fill="none" stroke="#555" stroke-width="1.5"/>
<g stroke="#555" stroke-width="1.3">
<line x1="928.3" y1="448.6" x2="928.3" y2="454"/><line x1="1074.1" y1="448.6" x2="1074.1" y2="454"/>
<line x1="1219.9" y1="448.6" x2="1219.9" y2="454"/><line x1="1365.7" y1="448.6" x2="1365.7" y2="454"/>
<line x1="1511.5" y1="448.6" x2="1511.5" y2="454"/><line x1="1657.3" y1="448.6" x2="1657.3" y2="454"/>
<line x1="916" y1="122.7" x2="921.3" y2="122.7"/><line x1="916" y1="221.2" x2="921.3" y2="221.2"/>
<line x1="916" y1="319.8" x2="921.3" y2="319.8"/><line x1="916" y1="418.3" x2="921.3" y2="418.3"/>
</g>
<g font-size="26" fill="#222">
<text x="912" y="131.5" text-anchor="end">0</text>
<text x="912" y="230" text-anchor="end">−100</text>
<text x="912" y="328.6" text-anchor="end">−200</text>
<text x="912" y="427" text-anchor="end">−300</text>
<text x="928.3" y="478" text-anchor="middle">0</text>
<text x="1074.1" y="478" text-anchor="middle">100</text>
<text x="1219.9" y="478" text-anchor="middle">200</text>
<text x="1365.7" y="478" text-anchor="middle">300</text>
<text x="1511.5" y="478" text-anchor="middle">400</text>
</g>
<g clip-path="url(#cpTRL)"><text x="1657.3" y="478" font-size="26" fill="#222" text-anchor="middle">500</text></g>
<text x="1292" y="507" font-size="27" font-weight="bold" fill="#222" text-anchor="middle" textLength="332" lengthAdjust="spacingAndGlyphs">Number of training episodes</text>

<rect x="1000.5" y="25" width="575" height="70.4" rx="5" fill="#fff" stroke="#cfcfcf" stroke-width="1.3"/>
<line x1="1007" y1="42.9" x2="1057" y2="42.9" stroke="#1b1f5c" stroke-width="5"/>
<line x1="1196" y1="42.9" x2="1247" y2="42.9" stroke="#9a3caa" stroke-width="4.5"/>
<line x1="1423" y1="42.9" x2="1474" y2="42.9" stroke="#f5a940" stroke-width="4.5"/>
<line x1="1009" y1="75.3" x2="1057" y2="75.3" stroke="#8b2c1c" stroke-width="3.5" stroke-dasharray="0.1 6" stroke-linecap="round"/>
<line x1="1196" y1="75.3" x2="1247" y2="75.3" stroke="#2db14d" stroke-width="3.5" stroke-dasharray="11 6"/>
<line x1="1423" y1="75.3" x2="1474" y2="75.3" stroke="#787878" stroke-width="3.5" stroke-dasharray="12 5 3 5"/>
<g font-size="23" fill="#222">
<text x="1072.7" y="51">RSS</text><text x="1262.7" y="51">DRDPG-WA</text><text x="1490" y="51">DRQN</text>
<text x="1072.7" y="83.5">RSS-WOA</text><text x="1262.7" y="83.5">DRDPG-WOA</text><text x="1490" y="83.5">Random</text>
</g>
</g>

<!-- ================= BOTTOM-LEFT CHART ================= -->
<g stroke="#d8d8d8" stroke-width="1.4">
<line x1="147.7" y1="531" x2="147.7" y2="966"/><line x1="307.7" y1="531" x2="307.7" y2="966"/>
<line x1="467.7" y1="531" x2="467.7" y2="966"/><line x1="627.7" y1="531" x2="627.7" y2="966"/>
<line x1="787.7" y1="531" x2="787.7" y2="966"/>
<line x1="116" y1="541.9" x2="820" y2="541.9"/><line x1="116" y1="606.2" x2="820" y2="606.2"/>
<line x1="116" y1="670.5" x2="820" y2="670.5"/><line x1="116" y1="734.8" x2="820" y2="734.8"/>
<line x1="116" y1="799.1" x2="820" y2="799.1"/><line x1="116" y1="863.4" x2="820" y2="863.4"/>
<line x1="116" y1="927.7" x2="820" y2="927.7"/>
</g>
<path d="M116,531 V966 H820 V531" fill="none" stroke="#555" stroke-width="2"/>
<polyline fill="none" stroke="#1c2466" stroke-width="3.5" points="147.7,695 307.7,594.6 467.7,556 627.7,548.3 787.7,558.6"/>
<polyline fill="none" stroke="#1b7a3a" stroke-width="3.5" points="147.7,806.2 307.7,691.1 467.7,634.5 627.7,603.6 787.7,683.4"/>
<polyline fill="none" stroke="#7a1018" stroke-width="3.5" points="147.7,946.3 307.7,860.2 467.7,771.4 627.7,801.7 787.7,768.2"/>
<g fill="#1c2466">
<circle cx="147.7" cy="695" r="9.5"/><circle cx="307.7" cy="594.6" r="9.5"/><circle cx="467.7" cy="556" r="9.5"/><circle cx="627.7" cy="548.3" r="9.5"/><circle cx="787.7" cy="558.6" r="9.5"/>
</g>
<g fill="#1b7a3a">
<polygon points="147.7,793.2 157.9,806.2 147.7,819.2 137.5,806.2"/>
<polygon points="307.7,678.1 317.9,691.1 307.7,704.1 297.5,691.1"/>
<polygon points="467.7,621.5 477.9,634.5 467.7,647.5 457.5,634.5"/>
<polygon points="627.7,590.6 637.9,603.6 627.7,616.6 617.5,603.6"/>
<polygon points="787.7,670.4 797.9,683.4 787.7,696.4 777.5,683.4"/>
</g>
<g fill="#7a1018">
<polygon points="138.2,936.8 157.7,946.3 138.2,955.8"/>
<polygon points="298.2,850.7 317.7,860.2 298.2,869.7"/>
<polygon points="458.2,761.9 477.7,771.4 458.2,780.9"/>
<polygon points="618.2,792.2 637.7,801.7 618.2,811.2"/>
<polygon points="778.2,758.7 797.7,768.2 778.2,777.7"/>
</g>
<g font-size="26" fill="#222">
<text x="104" y="550.9" text-anchor="end">−4</text>
<text x="104" y="615.2" text-anchor="end">−5</text>
<text x="104" y="679.5" text-anchor="end">−6</text>
<text x="104" y="743.8" text-anchor="end">−7</text>
<text x="104" y="808.1" text-anchor="end">−8</text>
<text x="104" y="872.4" text-anchor="end">−9</text>
<text x="104" y="936.7" text-anchor="end">−10</text>
<text x="147.7" y="996" text-anchor="middle">0.2</text>
<text x="307.7" y="996" text-anchor="middle">0.4</text>
<text x="467.7" y="996" text-anchor="middle">0.6</text>
<text x="627.7" y="996" text-anchor="middle">0.8</text>
<text x="787.7" y="996" text-anchor="middle">1.0</text>
</g>
<text x="465.5" y="1028" font-size="27" font-weight="bold" fill="#222" text-anchor="middle" textLength="184" lengthAdjust="spacingAndGlyphs">EH probability</text>
<text transform="translate(48,745) rotate(-90)" font-size="28" font-weight="bold" fill="#222" text-anchor="middle" textLength="194" lengthAdjust="spacingAndGlyphs">Average reward</text>
<rect x="532.3" y="828.9" width="238.1" height="122.5" rx="5" fill="#fff" fill-opacity="0.9" stroke="#cfcfcf" stroke-width="1.5"/>
<line x1="543" y1="850.8" x2="596.5" y2="850.8" stroke="#1c2466" stroke-width="3.5"/>
<circle cx="569.8" cy="850.8" r="9.5" fill="#1c2466"/>
<line x1="543" y1="888.7" x2="596.5" y2="888.7" stroke="#1b7a3a" stroke-width="3.5"/>
<polygon points="569.8,875.7 580,888.7 569.8,901.7 559.6,888.7" fill="#1b7a3a"/>
<line x1="543" y1="926.8" x2="596.5" y2="926.8" stroke="#7a1018" stroke-width="3.5"/>
<polygon points="560.3,917.3 579.8,926.8 560.3,936.3" fill="#7a1018"/>
<g font-size="27" fill="#222">
<text x="618" y="860">RSS</text><text x="618" y="898">DRDPG-WA</text><text x="618" y="936">DRQN</text>
</g>

<!-- ================= BOTTOM-RIGHT CHART ================= -->
<g stroke="#dadada" stroke-width="2">
<line x1="935" y1="551.7" x2="1651.7" y2="551.7"/><line x1="935" y1="656" x2="1651.7" y2="656"/>
<line x1="935" y1="760.4" x2="1651.7" y2="760.4"/><line x1="935" y1="864.7" x2="1651.7" y2="864.7"/>
</g>
<g fill="url(#pX)" stroke="#7d9ae0" stroke-width="1">
<rect x="965.7" y="808.3" width="19.2" height="160.7"/><rect x="1100.3" y="883.5" width="19.2" height="85.5"/>
<rect x="1234.9" y="873" width="19.2" height="96"/><rect x="1369.5" y="896" width="19.2" height="73"/>
<rect x="1504.1" y="906.4" width="19.2" height="62.6"/>
</g>
<g fill="url(#pG)" stroke="#c47ad2" stroke-width="1">
<rect x="984.9" y="820.9" width="19.2" height="148.1"/><rect x="1119.5" y="854.2" width="19.2" height="114.8"/>
<rect x="1254.1" y="848" width="19.2" height="121"/><rect x="1388.7" y="862.6" width="19.2" height="106.4"/>
<rect x="1523.3" y="851.1" width="19.2" height="117.9"/>
</g>
<g fill="url(#pS)" stroke="#ee7070" stroke-width="1">
<rect x="1004.1" y="835.5" width="19.2" height="133.5"/><rect x="1138.7" y="929.4" width="19.2" height="39.6"/>
<rect x="1273.3" y="929.4" width="19.2" height="39.6"/><rect x="1407.9" y="935.6" width="19.2" height="33.4"/>
<rect x="1542.5" y="935.6" width="19.2" height="33.4"/>
</g>
<g fill="url(#pH)" stroke="#8a9ad0" stroke-width="1">
<rect x="1023.3" y="954.4" width="19.2" height="14.6"/><rect x="1157.9" y="923.1" width="19.2" height="45.9"/>
<rect x="1292.5" y="839.6" width="19.2" height="129.4"/><rect x="1427.1" y="727" width="19.2" height="242"/>
<rect x="1561.7" y="551.7" width="19.2" height="417.3"/>
</g>
<g fill="url(#pB)" stroke="#7aa07a" stroke-width="1">
<rect x="1042.5" y="937.7" width="19.2" height="31.3"/><rect x="1177.1" y="902.2" width="19.2" height="66.8"/>
<rect x="1311.7" y="816.7" width="19.2" height="152.3"/><rect x="1446.3" y="616.4" width="19.2" height="352.6"/>
<rect x="1580.9" y="551.7" width="19.2" height="417.3"/>
</g>
<g fill="url(#pD)" stroke="#7a90e0" stroke-width="1">
<rect x="1061.7" y="927.3" width="19.2" height="41.7"/><rect x="1196.3" y="935.6" width="19.2" height="33.4"/>
<rect x="1330.9" y="718.6" width="19.2" height="250.4"/><rect x="1465.5" y="580.9" width="19.2" height="388.1"/>
<rect x="1600.1" y="551.7" width="19.2" height="417.3"/>
</g>
<rect x="935" y="541.7" width="716.7" height="427.3" fill="none" stroke="#444" stroke-width="1.8"/>
<g font-size="26" fill="#222">
<text x="923" y="561" text-anchor="end">20</text>
<text x="923" y="665" text-anchor="end">15</text>
<text x="923" y="769.5" text-anchor="end">10</text>
<text x="923" y="874" text-anchor="end">5</text>
<text x="923" y="978" text-anchor="end">0</text>
<text x="1023.4" y="996" text-anchor="middle">0.2</text>
<text x="1158" y="996" text-anchor="middle">0.4</text>
<text x="1292.6" y="996" text-anchor="middle">0.6</text>
<text x="1427.2" y="996" text-anchor="middle">0.8</text>
<text x="1561.8" y="996" text-anchor="middle">1.0</text>
</g>
<text x="1292" y="1028" font-size="27" font-weight="bold" fill="#222" text-anchor="middle" textLength="182" lengthAdjust="spacingAndGlyphs">EH probability</text>
<text transform="translate(887,755.5) rotate(-90)" font-size="28" font-weight="bold" fill="#222" text-anchor="middle" textLength="312" lengthAdjust="spacingAndGlyphs">Minimum residual energy</text>
<rect x="981.8" y="566.3" width="256.8" height="209.3" rx="5" fill="#fff" fill-opacity="0.9" stroke="#cfcfcf" stroke-width="1.5"/>
<rect x="991" y="575.5" width="46" height="17" fill="url(#pX)" stroke="#7d9ae0"/>
<rect x="991" y="609.2" width="46" height="17" fill="url(#pG)" stroke="#c47ad2"/>
<rect x="991" y="642.9" width="46" height="17" fill="url(#pS)" stroke="#ee7070"/>
<rect x="991" y="676.6" width="46" height="17" fill="url(#pH)" stroke="#8a9ad0"/>
<rect x="991" y="710.3" width="46" height="17" fill="url(#pB)" stroke="#7aa07a"/>
<rect x="991" y="744" width="46" height="17" fill="url(#pD)" stroke="#7a90e0"/>
<g font-size="23" fill="#222">
<text x="1055.6" y="592">RSS: HSs</text>
<text x="1055.6" y="625.7">DRDPG-WA: HSs</text>
<text x="1055.6" y="659.4">DRQN: HSs</text>
<text x="1055.6" y="693.1">RSS: <tspan font-style="italic">N</tspan><tspan font-size="15" dy="5">5</tspan></text>
<text x="1055.6" y="726.8">DRDPG-WA: <tspan font-style="italic">N</tspan><tspan font-size="15" dy="5">5</tspan></text>
<text x="1055.6" y="760.5">DRQN: <tspan font-style="italic">N</tspan><tspan font-size="15" dy="5">5</tspan></text>
</g>
</svg>
</body></html>
